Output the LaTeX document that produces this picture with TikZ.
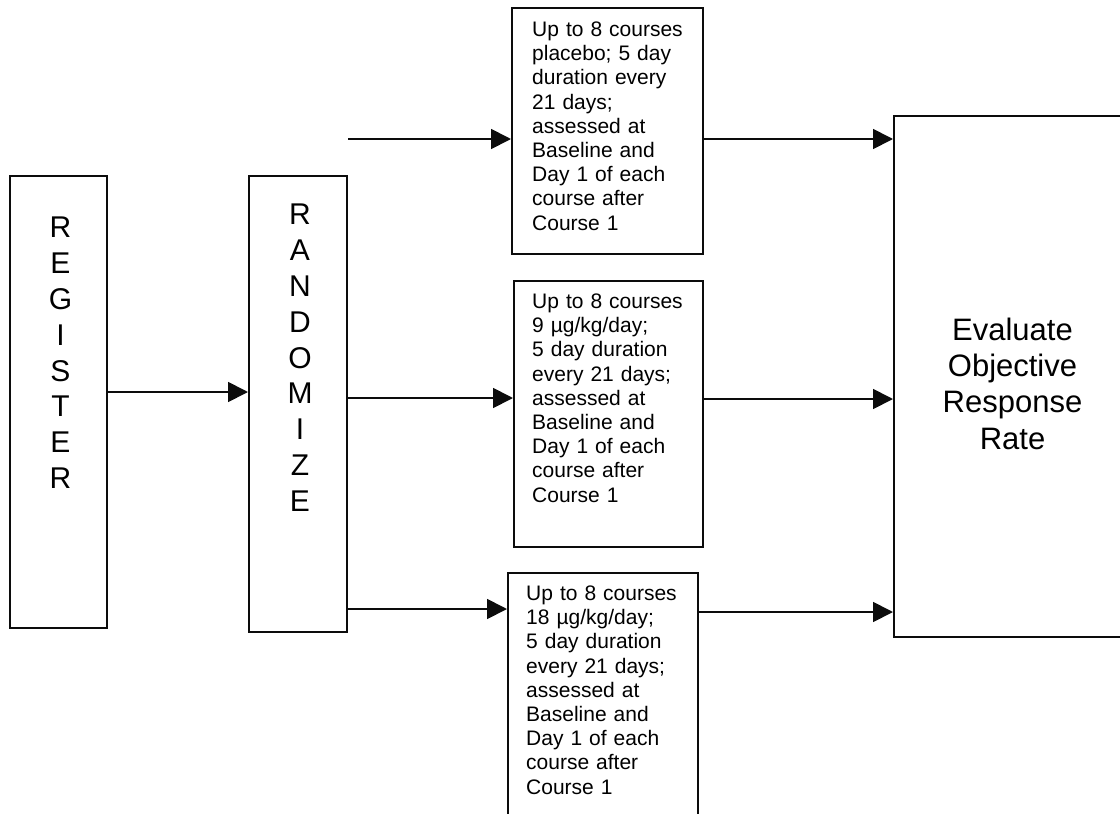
\documentclass[tikz,border=0pt]{standalone}
\usepackage{fontspec}
\setmainfont{Liberation Sans}
\usepackage{tikz}
\usetikzlibrary{arrows.meta,positioning}
\definecolor{scanblack}{RGB}{12,12,12}

\begin{document}
\begin{tikzpicture}[x=1pt, y=-1pt, >={Triangle[length=20pt, width=20pt]},
  box/.style={draw=scanblack, line width=2pt, inner sep=0pt},
  arm/.style={font=\fontsize{21}{24.2}\selectfont, text width=170pt, align=left, inner sep=0pt, anchor=base west},
  tall/.style={font=\fontsize{30}{35.8}\selectfont, text width=40pt, align=center, inner sep=0pt},
  ar/.style={->, line width=1.8pt, draw=scanblack}]
\useasboundingbox (0,0) rectangle (1120,814);
\node[box, minimum width=97pt, minimum height=452pt] (reg) at (58.5,402) {};
\node[box, minimum width=98pt, minimum height=456pt] (rnd) at (298,404) {};
\node[box, minimum width=191pt, minimum height=246pt] (pla) at (607.5,131) {};
\node[box, minimum width=189pt, minimum height=266pt] (low) at (608.5,414) {};
\node[box, minimum width=190pt, minimum height=277pt] (hig) at (603,711.5) {};
\node[box, minimum width=237pt, minimum height=521pt] (eval) at (1012.5,376.5) {};
\node[tall, below=42pt of reg.north, xshift=2pt] (regtxt) {R\\E\\G\\I\\S\\T\\E\\R};
\node[tall, below=29pt of rnd.north, xshift=2pt] (rndtxt) {R\\A\\N\\D\\O\\M\\I\\Z\\E};
\node[arm] (platxt) at ([xshift=21pt, yshift=-29.5pt]pla.north west)
  {Up to 8 courses\\placebo; 5 day\\duration every\\21 days;\\assessed at\\Baseline and\\Day 1 of each\\course after\\Course 1};
\node[arm] (lowtxt) at ([xshift=19pt, yshift=-28.5pt]low.north west)
  {Up to 8 courses\\9 µg/kg/day;\\5 day duration\\every 21 days;\\assessed at\\Baseline and\\Day 1 of each\\course after\\Course 1};
\node[arm] (higtxt) at ([xshift=19pt, yshift=-28.5pt]hig.north west)
  {Up to 8 courses\\18 µg/kg/day;\\5 day duration\\every 21 days;\\assessed at\\Baseline and\\Day 1 of each\\course after\\Course 1};
\node[font=\fontsize{31}{36.3}\selectfont, align=center, inner sep=0pt] (evaltxt) at ([yshift=-7pt]eval.center)
  {Evaluate\\Objective\\Response\\Rate};
\draw[ar] (reg.east |- 0,392) -- (rnd.west |- 0,392);
\draw[ar] (rnd.east |- 0,139) -- (pla.west |- 0,139);
\draw[ar] (rnd.east |- 0,398) -- (low.west |- 0,398);
\draw[ar] (rnd.east |- 0,609) -- (hig.west |- 0,609);
\draw[ar] (pla.east |- 0,139) -- (eval.west |- 0,139);
\draw[ar] (low.east |- 0,399) -- (eval.west |- 0,399);
\draw[ar] (hig.east |- 0,612) -- (eval.west |- 0,612);
\end{tikzpicture}
\end{document}
